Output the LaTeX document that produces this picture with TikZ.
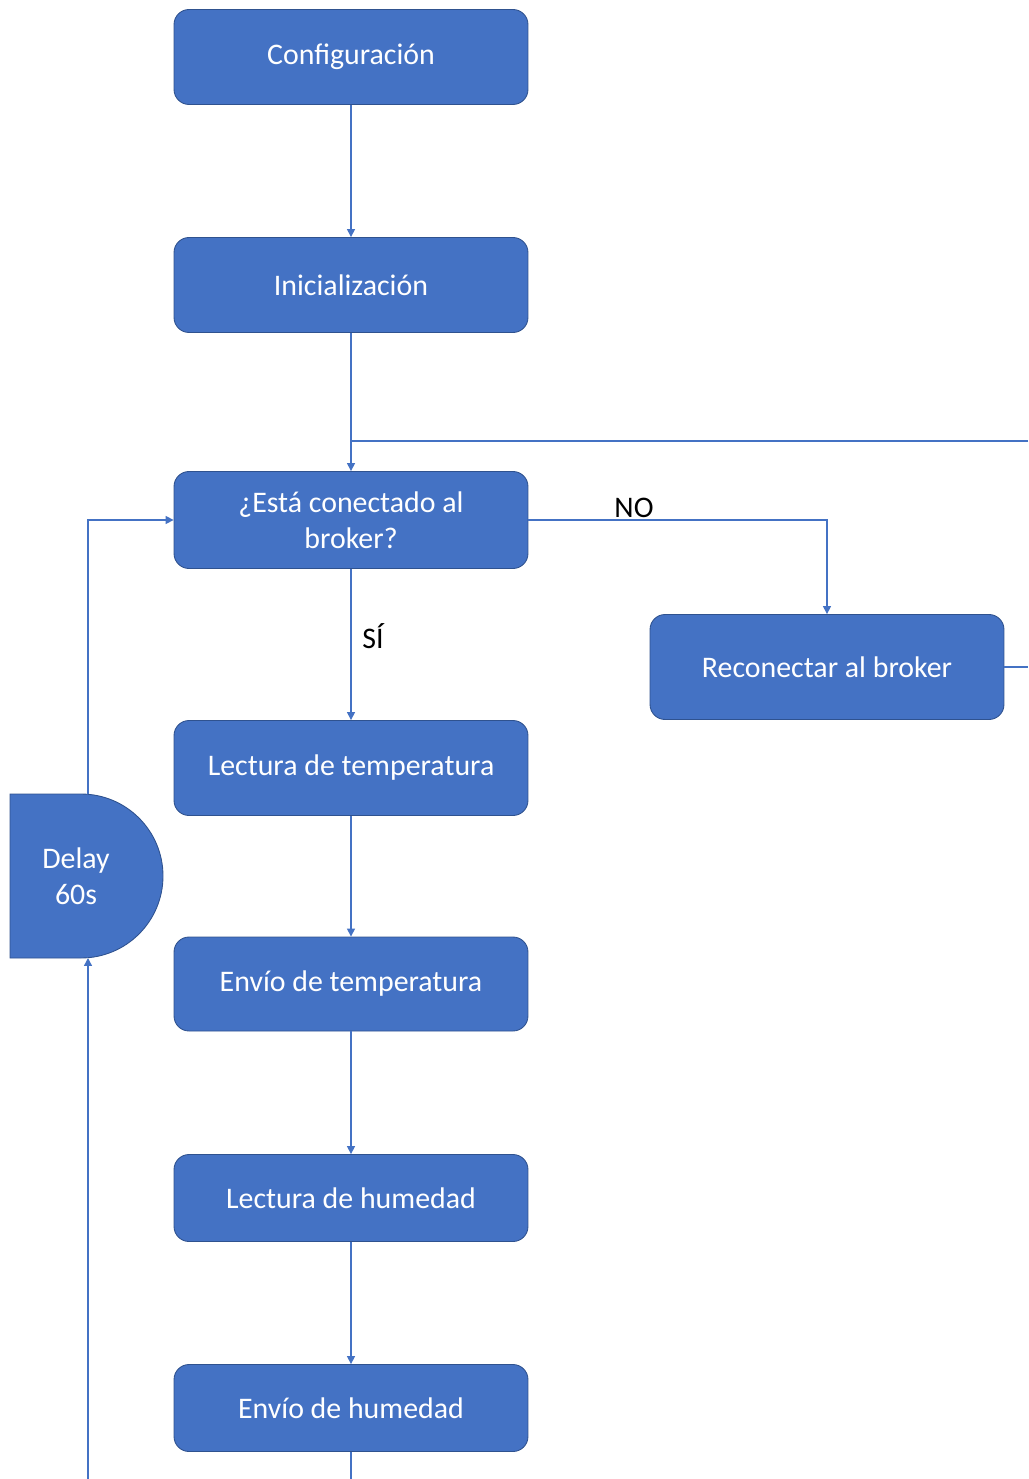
\documentclass[tikz,border=0pt]{standalone}
\usepackage{fontspec}
\setmainfont{Carlito}
\usetikzlibrary{arrows.meta}
\definecolor{boxblue}{HTML}{4472C4}
\definecolor{boxedge}{HTML}{2F528F}
\tikzset{
  stepbox/.style={draw=boxedge, line width=0.5pt, fill=boxblue, rounded corners=0.3cm,
    text=white, align=center, minimum width=7.08cm, minimum height=1.9cm,
    font=\fontsize{17}{20.5}\selectfont},
  flow/.style={draw=boxblue, line width=0.8pt},
  flowarrow/.style={flow, -{Triangle[width=4.5pt,length=4.5pt]}},
  flowlabel/.style={font=\fontsize{17}{20.5}\selectfont}
}
\begin{document}
\begin{tikzpicture}[x=0.02cm, y=-0.02cm]
                \useasboundingbox (0,0) rectangle (1028,1479);
                \node[stepbox] (config) at (351,57) {Configuración};
                \node[stepbox] (init) at (351,285) {Inicialización};
                \node[stepbox, minimum height=1.94cm] (check) at (351,520) {¿Está conectado al\\broker?};
                \node[stepbox, minimum height=2.1cm] (reconnect) at (827,667) {Reconectar al broker};
                \node[stepbox] (readtemp) at (351,768) {Lectura de temperatura};
                \node[stepbox, minimum height=1.88cm] (sendtemp) at (351,984) {Envío de temperatura};
                \node[stepbox, minimum height=1.74cm] (readhum) at (351,1198) {Lectura de humedad};
                \node[stepbox, minimum height=1.74cm] (sendhum) at (351,1408) {Envío de humedad};

                % Delay (half rounded)
                \filldraw[fill=boxblue, draw=boxedge, line width=0.5pt] (10,794) -- (81,794)
                  arc[start angle=-90, end angle=90, radius=82] -- (10,958) -- cycle;
                \node[text=white, align=center, font=\fontsize{17}{20.5}\selectfont] (delay) at (76,876) {Delay\\60s};
                \coordinate (delaytop) at (88,794);
                \coordinate (delaybot) at (88,958);

                % loose ends at the picture border
                \coordinate (loopin) at (1028,441);
                \coordinate (loopout) at (1028,667);
                \coordinate (loopbot) at (88,1479);
                \coordinate (endbot) at (351,1479);
                \coordinate (join) at (351,441);

                \draw[flowarrow] (config) -- (init);
                \draw[flowarrow] (init) -- (check);
                \draw[flow] (loopin) -- (join);
                \draw[flowarrow] (check.east) -| (reconnect.north);
                \node[flowlabel] (nolabel) at (634,508) {NO};
                \draw[flow] (reconnect.east) -- (loopout);
                \draw[flowarrow] (check) -- (readtemp);
                \node[flowlabel] (silabel) at (373,636) {SÍ};
                \draw[flowarrow] (readtemp) -- (sendtemp);
                \draw[flowarrow] (sendtemp) -- (readhum);
                \draw[flowarrow] (readhum) -- (sendhum);
                \draw[flow] (sendhum) -- (endbot);
                \draw[flowarrow] (loopbot) -- (delaybot);
                \draw[flowarrow] (delaytop) |- (check.west);
\end{tikzpicture}
\end{document}
